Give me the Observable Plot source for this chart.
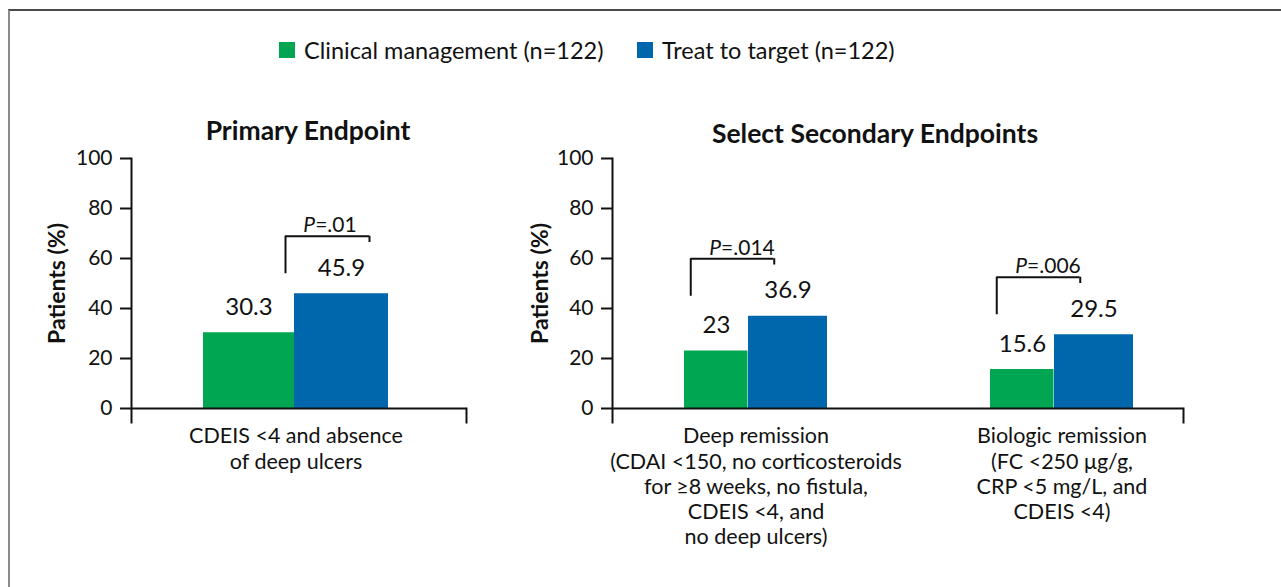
<!DOCTYPE html>
<html>
<head>
<meta charset="utf-8">
<script src="https://cdn.jsdelivr.net/npm/d3@7"></script>
<script src="https://cdn.jsdelivr.net/npm/@observablehq/plot@0.6"></script>
<style>
  html, body { margin: 0; padding: 0; background: #fff; }
  #root { position: relative; width: 1281px; height: 587px; overflow: hidden; font-family: Lato, "Noto Sans", sans-serif; color: #111; }
  #border { position: absolute; left: 8px; top: 9px; width: 1400px; height: 700px; border-top: 2px solid #4a4a4a; border-left: 2px solid #8a8a8a; }
  .title { position: absolute; font-weight: bold; font-size: 26.5px; transform: translate(-50%, -50%); white-space: nowrap; }
  .item { position: absolute; top: 50px; display: flex; align-items: center; font-size: 23.5px; white-space: nowrap; transform: translateY(-50%); }
  .sw { display: inline-block; width: 16px; height: 16px; margin-right: 9px; }
  .panel { position: absolute; top: 100px; }
</style>
</head>
<body>
<div id="root">
  <div id="border"></div>
</div>
<script>
// ---- data ----
const seriesNames = ["Clinical management (n=122)", "Treat to target (n=122)"];
const seriesColors = ["#00a651", "#0067ac"];
const yTicks = [0, 20, 40, 60, 80, 100];
const panelTitles = ["Primary Endpoint", "Select Secondary Endpoints"];
const yLabel = "Patients (%)";

const leftCategories = ["CDEIS <4 and absence\nof deep ulcers"];
const leftClinical = [30.3];
const leftTreat = [45.9];
const leftP = ["P=.01"];

const rightCategories = [
  "Deep remission\n(CDAI <150, no corticosteroids\nfor \u22658 weeks, no fistula,\nCDEIS <4, and\nno deep ulcers)",
  "Biologic remission\n(FC <250 \u03bcg/g,\nCRP <5 mg/L, and\nCDEIS <4)"
];
const rightClinical = [23, 15.6];
const rightTreat = [36.9, 29.5];
const rightP = ["P=.014", "P=.006"];

const root = document.getElementById("root");

// ---- legend ----
[279, 637].forEach((x, i) => {
  const it = document.createElement("div");
  it.className = "item";
  it.style.left = x + "px";
  it.innerHTML = `<span class="sw" style="background:${seriesColors[i]}"></span><span>${seriesNames[i]}</span>`;
  root.appendChild(it);
});

// ---- titles ----
[[308, 130], [875, 133]].forEach(([x, y], i) => {
  const t = document.createElement("div");
  t.className = "title";
  t.style.left = x + "px";
  t.style.top = y + "px";
  t.textContent = panelTitles[i];
  root.appendChild(t);
});

function panel(opts) {
  const {categories, clinical, treat, pLabels, left, width, marginLeft, marginRight, xScale,
         gInsetRight, bInsetLeft, gDx, bDx, brInsetLeft, brInsetRight, brLeftDx, brRightDx, pDx, labelDx} = opts;
  const rows = [];
  categories.forEach((c, i) => {
    rows.push({cat: c, s: 0, v: clinical[i]});
    rows.push({cat: c, s: 1, v: treat[i]});
  });
  const brackets = categories.map((c, i) => {
    const m = Math.max(clinical[i], treat[i]);
    return {cat: c, top: m + 23, low: m + 8, tick: m + 20.5, p: pLabels[i]};
  });
  const height = 487;
  const chart = Plot.plot({
    width, height,
    marginLeft, marginRight, marginTop: 58, marginBottom: 179,
    style: {fontFamily: "Lato, 'Noto Sans', sans-serif", fontSize: "21px", color: "#111", background: "transparent", overflow: "visible"},
    x: {...xScale, domain: categories, axis: null},
    y: {domain: [0, 100], axis: null},
    marks: [
      Plot.barY(rows.filter(d => d.s === 0), {x: "cat", y: "v", fill: seriesColors[0], insetRight: gInsetRight}),
      Plot.barY(rows.filter(d => d.s === 1), {x: "cat", y: "v", fill: seriesColors[1], insetLeft: bInsetLeft}),
      Plot.axisY({ticks: yTicks, tickSize: 11, tickPadding: 8, strokeWidth: 2, label: null, fontSize: 21, fill: "#111"}),
      Plot.frame({anchor: "left", insetBottom: -14, strokeWidth: 2, stroke: "#111"}),
      Plot.frame({anchor: "right", insetTop: 250, insetBottom: -14, strokeWidth: 2, stroke: "#111"}),
      Plot.ruleY([0], {strokeWidth: 2, stroke: "#111"}),
      // value labels
      Plot.text(rows.filter(d => d.s === 0), {x: "cat", y: "v", text: d => String(d.v), dx: gDx, dy: -18, lineAnchor: "bottom", fontSize: 24, fill: "#111"}),
      Plot.text(rows.filter(d => d.s === 1), {x: "cat", y: "v", text: d => String(d.v), dx: bDx, dy: -18, lineAnchor: "bottom", fontSize: 24, fill: "#111"}),
      // significance brackets
      Plot.tickY(brackets, {x: "cat", y: "top", insetLeft: brInsetLeft, insetRight: brInsetRight, strokeWidth: 2, stroke: "#111"}),
      Plot.ruleX(brackets, {x: "cat", y1: "top", y2: "low", dx: brLeftDx, strokeWidth: 2, stroke: "#111"}),
      Plot.ruleX(brackets, {x: "cat", y1: "top", y2: "tick", dx: brRightDx, strokeWidth: 2, stroke: "#111"}),
      Plot.text(brackets, {x: "cat", y: "top", text: "p", dx: pDx, dy: -4, lineAnchor: "bottom", fontSize: 21, fill: "#111"}),
      // category labels
      Plot.text(categories, {x: d => d, frameAnchor: "bottom", dy: 17, lineAnchor: "top", lineHeight: 1.17, fontSize: 21.5, fill: "#111", text: d => d}),
      // y label
      Plot.text([yLabel], {frameAnchor: "left", textAnchor: "middle", rotate: -90, dx: labelDx, fontWeight: "bold", fontSize: 23, fill: "#111"})
    ]
  });
  // italic P in p-value labels
  chart.querySelectorAll("text").forEach(t => {
    if (t.children.length === 0 && t.textContent.startsWith("P=")) {
      const rest = t.textContent.slice(1);
      t.textContent = "";
      const ts = document.createElementNS("http://www.w3.org/2000/svg", "tspan");
      ts.setAttribute("font-style", "italic");
      ts.textContent = "P";
      t.appendChild(ts);
      t.appendChild(document.createTextNode(rest));
    }
  });
  const wrap = document.createElement("div");
  wrap.className = "panel";
  wrap.style.left = left + "px";
  wrap.appendChild(chart);
  root.appendChild(wrap);
}

panel({
  categories: leftCategories, clinical: leftClinical, treat: leftTreat, pLabels: leftP,
  left: 0, width: 500, marginLeft: 131, marginRight: 34,
  xScale: {paddingInner: 0, paddingOuter: 0.405, align: 0.48},
  gInsetRight: 94, bInsetLeft: 91, gDx: -47, bDx: 45.5,
  brInsetLeft: 82, brInsetRight: 19, brLeftDx: -10.5, brRightDx: 73.5, pDx: 34, labelDx: -74
});
panel({
  categories: rightCategories, clinical: rightClinical, treat: rightTreat, pLabels: rightP,
  left: 500, width: 781, marginLeft: 112, marginRight: 98,
  xScale: {paddingInner: 0.532, paddingOuter: 0.1975, align: 0.595},
  gInsetRight: 79.5, bInsetLeft: 64, gDx: -39.5, bDx: 32,
  brInsetLeft: 6.5, brInsetRight: 53.5, brLeftDx: -65.25, brRightDx: 18.25, pDx: -14, labelDx: -72
});
</script>
</body>
</html>
